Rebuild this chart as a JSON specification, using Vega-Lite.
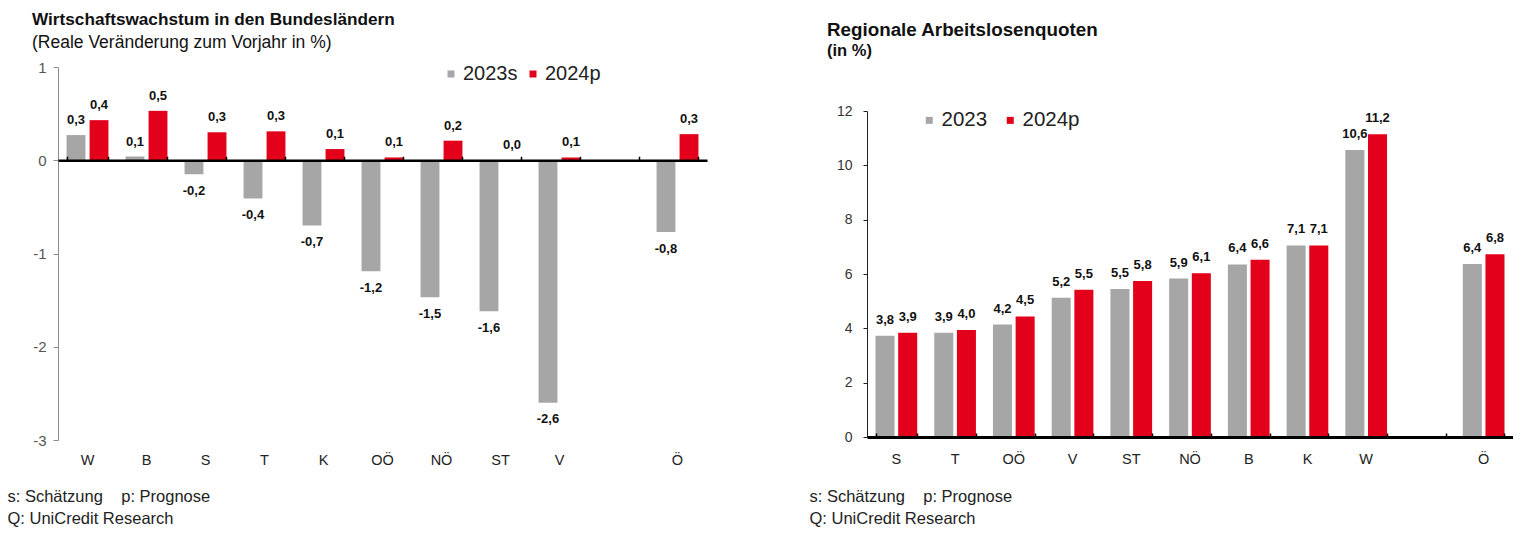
{
  "$schema": "https://vega.github.io/schema/vega-lite/v6.json",
  "padding": {"left": 7, "top": 11, "right": 0, "bottom": 0},
  "autosize": {"type": "pad"},
  "background": "white",
  "config": {
    "view": {"stroke": null},
    "font": "Liberation Sans",
    "axis": {"grid": false}
  },
  "spacing": 102,
  "resolve": {"scale": {"color": "independent", "x": "independent", "y": "independent", "xOffset": "independent"}, "legend": {"color": "independent"}},
  "hconcat": [
    {
      "width": 649,
      "height": 373,
      "title": {
        "text": "Wirtschaftswachstum in den Bundesländern",
        "subtitle": "(Reale Veränderung zum Vorjahr in %)",
        "anchor": "start",
        "frame": "group",
        "dx": -26,
        "offset": 9,
        "font": "Liberation Sans",
        "fontSize": 17.2,
        "fontWeight": "bold",
        "color": "#111111",
        "subtitleFont": "Liberation Sans",
        "subtitleFontSize": 17.5,
        "subtitleColor": "#111111",
        "subtitlePadding": 5
      },
      "data": {
        "values": [
          {"region": "W", "series": "2023s", "value": 0.27, "label": "0,3"},
          {"region": "W", "series": "2024p", "value": 0.43, "label": "0,4"},
          {"region": "B", "series": "2023s", "value": 0.04, "label": "0,1"},
          {"region": "B", "series": "2024p", "value": 0.53, "label": "0,5"},
          {"region": "S", "series": "2023s", "value": -0.15, "label": "-0,2"},
          {"region": "S", "series": "2024p", "value": 0.30, "label": "0,3"},
          {"region": "T", "series": "2023s", "value": -0.41, "label": "-0,4"},
          {"region": "T", "series": "2024p", "value": 0.31, "label": "0,3"},
          {"region": "K", "series": "2023s", "value": -0.70, "label": "-0,7"},
          {"region": "K", "series": "2024p", "value": 0.12, "label": "0,1"},
          {"region": "OÖ", "series": "2023s", "value": -1.19, "label": "-1,2"},
          {"region": "OÖ", "series": "2024p", "value": 0.03, "label": "0,1"},
          {"region": "NÖ", "series": "2023s", "value": -1.47, "label": "-1,5"},
          {"region": "NÖ", "series": "2024p", "value": 0.21, "label": "0,2"},
          {"region": "ST", "series": "2023s", "value": -1.62, "label": "-1,6"},
          {"region": "ST", "series": "2024p", "value": 0.0, "label": "0,0"},
          {"region": "V", "series": "2023s", "value": -2.6, "label": "-2,6"},
          {"region": "V", "series": "2024p", "value": 0.03, "label": "0,1"},
          {"region": "Ö", "series": "2023s", "value": -0.77, "label": "-0,8"},
          {"region": "Ö", "series": "2024p", "value": 0.28, "label": "0,3"}
        ]
      },
      "resolve": {"axis": {"x": "independent"}},
      "layer": [
        {
          "mark": {"type": "bar"},
          "encoding": {
            "x": {
              "field": "region", "type": "nominal", "sort": null,
              "scale": {"domain": ["W", "B", "S", "T", "K", "OÖ", "NÖ", "ST", "V", "gap", "Ö"], "paddingInner": 0.29, "paddingOuter": 0.145},
              "axis": {
                "orient": "bottom", "domain": false, "ticks": false, "labelAngle": 0,
                "labelExpr": "datum.value == 'gap' ? '' : datum.value",
                "labelFontSize": 14.5, "labelColor": "#222222", "labelPadding": 13,
                "title": ["s: Schätzung\u00a0\u00a0\u00a0\u00a0p: Prognose", "Q: UniCredit Research"],
                "titleAnchor": "start", "titleAlign": "left", "titleBaseline": "top",
                "titleX": -51, "titleY": 48, "titleFontSize": 16.5, "titleFontWeight": "normal",
                "titleColor": "#222222", "titleLineHeight": 22
              }
            },
            "xOffset": {"field": "series", "type": "nominal", "scale": {"paddingInner": 0.18, "paddingOuter": 0}},
            "y": {
              "field": "value", "type": "quantitative",
              "scale": {"domain": [-3, 1], "nice": false, "zero": false},
              "axis": {
                "values": [1, 0, -1, -2, -3], "labelExpr": "toString(datum.value)",
                "domainColor": "#8c8c8c", "tickColor": "#8c8c8c", "tickSize": 5,
                "labelColor": "#555555", "labelFontSize": 15, "labelPadding": 7, "title": null
              }
            },
            "color": {
              "field": "series", "type": "nominal",
              "scale": {"domain": ["2023s", "2024p"], "range": ["#A6A6A6", "#E2001A"]},
              "legend": {
                "orient": "none", "legendX": 383, "legendY": -3, "direction": "horizontal",
                "title": null, "symbolType": "square", "symbolSize": 49, "symbolStrokeWidth": 0,
                "labelFontSize": 20, "labelColor": "#222222", "labelOffset": 2, "columnPadding": 5, "padding": 0
              }
            }
          }
        },
        {
          "transform": [{"filter": "datum.value >= 0"}],
          "mark": {"type": "text", "dy": -15, "baseline": "middle", "fontWeight": "bold", "fontSize": 13, "color": "#111111"},
          "encoding": {
            "x": {
              "field": "region", "type": "nominal", "sort": null,
              "axis": {
                "orient": "top", "offset": -93.25, "labels": false, "title": null,
                "domain": true, "domainColor": "#000000", "domainWidth": 2.5,
                "ticks": true, "tickBand": "extent", "tickColor": "#000000", "tickSize": 4, "tickWidth": 1.5,
                "zindex": 1
              }
            },
            "xOffset": {"field": "series", "type": "nominal"},
            "y": {"field": "value", "type": "quantitative"},
            "text": {"field": "label", "type": "nominal"}
          }
        },
        {
          "transform": [{"filter": "datum.value < 0"}],
          "mark": {"type": "text", "dy": 16.5, "baseline": "middle", "fontWeight": "bold", "fontSize": 13, "color": "#111111"},
          "encoding": {
            "x": {"field": "region", "type": "nominal", "sort": null, "axis": null},
            "xOffset": {"field": "series", "type": "nominal"},
            "y": {"field": "value", "type": "quantitative"},
            "text": {"field": "label", "type": "nominal"}
          }
        }
      ]
    },
    {
      "width": 646,
      "height": 373,
      "title": {
        "text": "Regionale Arbeitslosenquoten",
        "subtitle": "(in %)",
        "anchor": "start",
        "frame": "group",
        "dx": -40,
        "offset": 8,
        "font": "Liberation Sans",
        "fontSize": 18.8,
        "fontWeight": "bold",
        "color": "#111111",
        "subtitleFont": "Liberation Sans",
        "subtitleFontSize": 16.5,
        "subtitleFontWeight": "bold",
        "subtitleColor": "#111111",
        "subtitlePadding": 3
      },
      "data": {
        "values": [
          {"region": "S", "series": "2023", "value": 3.73, "label": "3,8"},
          {"region": "S", "series": "2024p", "value": 3.84, "label": "3,9"},
          {"region": "T", "series": "2023", "value": 3.84, "label": "3,9"},
          {"region": "T", "series": "2024p", "value": 3.94, "label": "4,0"},
          {"region": "OÖ", "series": "2023", "value": 4.14, "label": "4,2"},
          {"region": "OÖ", "series": "2024p", "value": 4.44, "label": "4,5"},
          {"region": "V", "series": "2023", "value": 5.13, "label": "5,2"},
          {"region": "V", "series": "2024p", "value": 5.42, "label": "5,5"},
          {"region": "ST", "series": "2023", "value": 5.45, "label": "5,5"},
          {"region": "ST", "series": "2024p", "value": 5.74, "label": "5,8"},
          {"region": "NÖ", "series": "2023", "value": 5.83, "label": "5,9"},
          {"region": "NÖ", "series": "2024p", "value": 6.03, "label": "6,1"},
          {"region": "B", "series": "2023", "value": 6.35, "label": "6,4"},
          {"region": "B", "series": "2024p", "value": 6.52, "label": "6,6"},
          {"region": "K", "series": "2023", "value": 7.05, "label": "7,1"},
          {"region": "K", "series": "2024p", "value": 7.05, "label": "7,1"},
          {"region": "W", "series": "2023", "value": 10.56, "label": "10,6"},
          {"region": "W", "series": "2024p", "value": 11.14, "label": "11,2"},
          {"region": "Ö", "series": "2023", "value": 6.37, "label": "6,4"},
          {"region": "Ö", "series": "2024p", "value": 6.73, "label": "6,8"}
        ]
      },
      "resolve": {"axis": {"x": "independent"}},
      "layer": [
        {
          "mark": {"type": "bar"},
          "encoding": {
            "x": {
              "field": "region", "type": "nominal", "sort": null,
              "scale": {"domain": ["S", "T", "OÖ", "V", "ST", "NÖ", "B", "K", "W", "gap", "Ö"], "paddingInner": 0.29, "paddingOuter": 0.145},
              "axis": {
                "orient": "bottom", "domain": false, "ticks": false, "labelAngle": 0,
                "labelExpr": "datum.value == 'gap' ? '' : datum.value",
                "labelFontSize": 14.5, "labelColor": "#222222", "labelPadding": 12,
                "title": ["s: Schätzung\u00a0\u00a0\u00a0\u00a0p: Prognose", "Q: UniCredit Research"],
                "titleAnchor": "start", "titleAlign": "left", "titleBaseline": "top",
                "titleX": -58, "titleY": 48, "titleFontSize": 16.5, "titleFontWeight": "normal",
                "titleColor": "#222222", "titleLineHeight": 22
              }
            },
            "xOffset": {"field": "series", "type": "nominal", "scale": {"paddingInner": 0.16, "paddingOuter": 0}},
            "y": {
              "field": "value", "type": "quantitative",
              "scale": {"domain": [0, 12], "nice": false, "range": [370, 44]},
              "axis": {
                "values": [0, 2, 4, 6, 8, 10, 12],
                "domainColor": "#222222", "tickColor": "#222222", "tickSize": 4,
                "labelColor": "#333333", "labelFontSize": 14, "labelPadding": 11, "title": null
              }
            },
            "color": {
              "field": "series", "type": "nominal",
              "scale": {"domain": ["2023", "2024p"], "range": ["#A6A6A6", "#E2001A"]},
              "legend": {
                "orient": "none", "legendX": 52, "legendY": 43, "direction": "horizontal",
                "title": null, "symbolType": "square", "symbolSize": 49, "symbolStrokeWidth": 0,
                "labelFontSize": 20.5, "labelColor": "#222222", "labelOffset": 2, "columnPadding": 12, "padding": 0
              }
            }
          }
        },
        {
          "mark": {"type": "text", "dy": -16, "baseline": "middle", "fontWeight": "bold", "fontSize": 13, "color": "#111111"},
          "encoding": {
            "x": {
              "field": "region", "type": "nominal", "sort": null,
              "axis": {
                "orient": "top", "offset": -370, "labels": false, "title": null,
                "domain": true, "domainColor": "#000000", "domainWidth": 3,
                "ticks": true, "tickBand": "extent", "tickColor": "#000000", "tickSize": 4, "tickWidth": 1.5,
                "zindex": 1
              }
            },
            "xOffset": {"field": "series", "type": "nominal"},
            "y": {"field": "value", "type": "quantitative"},
            "text": {"field": "label", "type": "nominal"}
          }
        }
      ]
    }
  ]
}
